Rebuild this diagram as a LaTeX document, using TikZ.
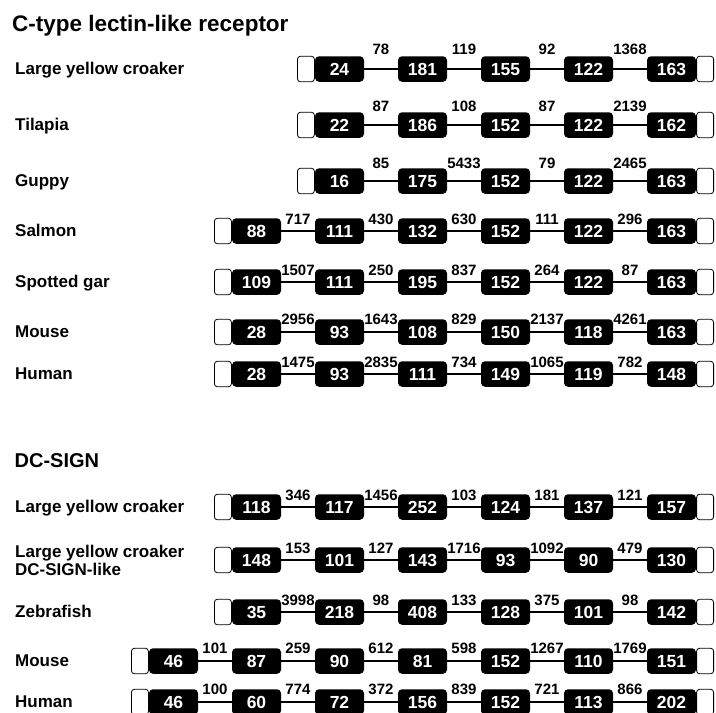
\documentclass[tikz,border=0pt]{standalone}
\usepackage{fontspec}
\setmainfont{Liberation Sans}
\usepackage{tikz}
\usetikzlibrary{positioning}
\tikzset{
  exonbox/.style={
    fill=black,
    text=white,
    rounded corners=4pt,
    minimum width=49pt,
    minimum height=25.5pt,
    text height=12.5pt,
    text depth=0pt,
    inner sep=0pt,
    font=\fontsize{17.5}{18}\selectfont\bfseries
  },
  capbox/.style={
    draw=black,
    fill=white,
    line width=0.8pt,
    rounded corners=3pt,
    minimum width=17pt,
    minimum height=25.5pt,
    inner sep=0pt
  },
  linker/.style={
    line width=2pt,
    draw=black
  },
  gaplabel/.style={
    font=\fontsize{15}{16}\selectfont\bfseries,
    inner sep=0pt,
    anchor=base
  },
  specieslabel/.style={
    font=\fontsize{17}{18.4}\selectfont\bfseries,
    inner sep=0pt,
    anchor=base west,
    align=left
  },
  grouptitle/.style={
    font=\fontsize{20}{24}\selectfont\bfseries,
    inner sep=0pt,
    anchor=base west
  }
}
% #1 row name, #2 row centre, #3 lift of the intron labels, #4 exons, #5 introns
\newcommand{\exonchain}[5]{%
  \foreach \len [count=\k] in {#4} {\xdef\nexons{\k}}%
  \foreach \len [count=\k] in {#4} {
    \node[exonbox] (#1-\k) at ({671.5-(\nexons-\k)*83}, #2) {\len};
  }
  \node[capbox, anchor=east] (#1-in) at (#1-1.west) {};
  \node[capbox, anchor=west] (#1-out) at (#1-\nexons.east) {};
  \foreach \len [count=\k] in {#5} {
    \pgfmathtruncatemacro{\knext}{\k+1}
    \draw[linker] (#1-\k) -- (#1-\knext) node[gaplabel, midway, yshift=#3] {\len};
  }
}

\begin{document}
\begin{tikzpicture}[x=1pt, y=-1pt]
    \useasboundingbox (0,0) rectangle (716,713);

    % C-type lectin-like receptor
    \node[grouptitle, font=\fontsize{22.5}{26}\selectfont\bfseries] (clr-title) at (12,31.7) {C-type lectin-like receptor};

    \node[specieslabel] (clr-croaker-name) at (15,74.5) {Large yellow croaker};
    \node[specieslabel] (clr-tilapia-name) at (15,130.5) {Tilapia};
    \node[specieslabel] (clr-guppy-name) at (15,186.5) {Guppy};
    \node[specieslabel] (clr-salmon-name) at (15,236.5) {Salmon};
    \node[specieslabel] (clr-gar-name) at (15,287.5) {Spotted gar};
    \node[specieslabel] (clr-mouse-name) at (15,337.5) {Mouse};
    \node[specieslabel] (clr-human-name) at (15,379.5) {Human};

    \exonchain{clr-croaker}{69}{15pt}{24,181,155,122,163}{78,119,92,1368}
    \exonchain{clr-tilapia}{125}{14pt}{22,186,152,122,162}{87,108,87,2139}
    \exonchain{clr-guppy}{181}{13pt}{16,175,152,122,163}{85,5433,79,2465}
    \exonchain{clr-salmon}{231}{7pt}{88,111,132,152,122,163}{717,430,630,111,296}
    \exonchain{clr-gar}{282}{7pt}{109,111,195,152,122,163}{1507,250,837,264,87}
    \exonchain{clr-mouse}{332}{8pt}{28,93,108,150,118,163}{2956,1643,829,2137,4261}
    \exonchain{clr-human}{374}{7pt}{28,93,111,149,119,148}{1475,2835,734,1065,782}

    % DC-SIGN
    \node[grouptitle] (dc-title) at (14.5,467.7) {DC-SIGN};

    \node[specieslabel] (dc-croaker-name) at (15,512.5) {Large yellow croaker};
    \node[specieslabel] (dc-like-name) at (15,575.5) {Large yellow croaker\\DC-SIGN-like};
    \node[specieslabel] (dc-zebrafish-name) at (15,617.5) {Zebrafish};
    \node[specieslabel] (dc-mouse-name) at (15,666.5) {Mouse};
    \node[specieslabel] (dc-human-name) at (15,707.5) {Human};

    \exonchain{dc-croaker}{507}{7pt}{118,117,252,124,137,157}{346,1456,103,181,121}
    \exonchain{dc-like}{560}{7pt}{148,101,143,93,90,130}{153,127,1716,1092,479}
    \exonchain{dc-zebrafish}{612}{7pt}{35,218,408,128,101,142}{3998,98,133,375,98}
    \exonchain{dc-mouse}{661}{8pt}{46,87,90,81,152,110,151}{101,259,612,598,1267,1769}
    \exonchain{dc-human}{702}{8pt}{46,60,72,156,152,113,202}{100,774,372,839,721,866}
\end{tikzpicture}
\end{document}
